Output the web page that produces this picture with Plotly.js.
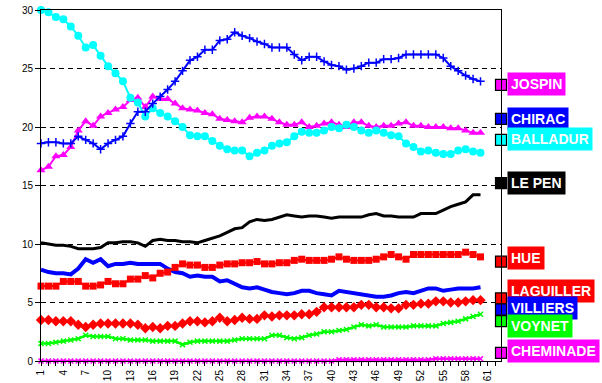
<!DOCTYPE html>
<html>
<head>
<meta charset="utf-8">
<script src="https://cdn.plot.ly/plotly-3.0.1.min.js"></script>
<style>
html,body{margin:0;padding:0;background:#fff;}
#chart{width:602px;height:383px;}
</style>
</head>
<body>
<div id="chart"></div>
<script>
// Survey index 1..60
const days = [1,2,3,4,5,6,7,8,9,10,11,12,13,14,15,16,17,18,19,20,21,22,23,24,25,26,27,28,29,30,31,32,33,34,35,36,37,38,39,40,41,42,43,44,45,46,47,48,49,50,51,52,53,54,55,56,57,58,59,60];

const jospin = [16.3,16.6,17.5,17.6,18.3,19.7,20.5,20.1,20.9,21.2,21.5,21.7,22.3,22.5,21.7,22.6,22.4,22.4,22.0,21.6,21.5,21.4,
  21.2,21.1,20.7,20.6,20.5,20.4,20.8,20.9,20.9,20.7,20.4,20.2,20.2,20.4,20.0,20.1,20.3,20.4,20.2,20.0,20.4,20.4,20.1,20.0,20.1,20.1,
  20.3,20.4,20.1,20.1,20.0,20.0,20.0,19.9,19.9,19.7,19.5,19.5];
const chirac = [18.6,18.7,18.7,18.6,18.6,19.2,18.9,18.6,18.1,18.6,18.9,19.2,20.3,21.3,21.3,22.0,22.6,23.2,23.9,24.8,25.7,26.0,
  26.6,26.6,27.4,27.5,28.1,27.8,27.6,27.3,27.1,26.8,26.8,26.8,26.2,25.7,26.0,26.0,25.6,25.3,25.2,24.9,25.0,25.2,25.5,25.5,25.8,25.8,
  25.9,26.2,26.2,26.2,26.2,26.2,25.9,25.2,24.8,24.4,24.1,23.9];
const balladur = [30.0,29.8,29.4,29.2,28.6,27.8,26.8,27.0,26.1,25.2,24.6,23.9,22.5,22.1,20.9,21.6,21.2,20.9,20.5,20.0,19.3,19.2,
  19.2,18.8,18.4,18.1,18.0,18.0,17.5,17.8,18.0,18.4,18.6,18.7,19.2,19.6,19.5,19.5,19.7,20.0,19.9,20.2,20.0,19.7,19.5,19.7,19.5,19.3,
  19.2,18.6,18.3,17.9,18.0,17.8,17.7,17.7,18.0,18.1,17.9,17.8];
const lepen = [10.1,10.0,9.9,9.9,9.8,9.6,9.6,9.6,9.7,10.1,10.1,10.2,10.2,10.1,9.8,10.3,10.4,10.3,10.3,10.2,10.2,10.1,
  10.3,10.5,10.7,11.0,11.3,11.4,11.9,12.1,12.0,12.1,12.3,12.5,12.4,12.3,12.4,12.4,12.3,12.2,12.3,12.3,
  12.3,12.3,12.5,12.6,12.4,12.4,12.3,12.3,12.3,12.6,12.6,12.6,12.9,13.2,13.4,13.6,14.2,14.2];
const hue = [6.4,6.4,6.4,6.8,6.8,6.8,6.4,6.4,6.5,6.8,6.6,6.6,7.0,7.0,7.3,7.1,7.5,7.6,8.0,8.3,8.2,8.2,
  8.0,8.0,8.2,8.3,8.3,8.4,8.4,8.5,8.3,8.3,8.4,8.4,8.6,8.7,8.6,8.6,8.6,8.7,8.9,
  8.7,8.6,8.6,8.6,8.7,8.9,9.1,8.9,8.7,9.1,9.1,9.1,9.1,9.1,9.1,9.1,9.3,9.1,8.9];
const villiers = [7.8,7.6,7.5,7.5,7.4,7.9,8.7,8.4,8.7,8.1,8.3,8.3,8.4,8.3,8.3,8.3,8.3,7.9,7.6,7.5,7.2,7.3,
  7.2,7.2,6.8,6.9,6.6,6.3,6.2,6.3,6.1,5.9,5.8,5.7,5.8,6.0,6.0,5.8,5.7,5.6,6.0,
  5.9,5.8,5.7,5.6,5.5,5.5,5.6,5.8,5.9,5.8,6.0,6.2,6.2,6.0,6.1,6.2,6.2,6.2,6.3];
const laguiller = [3.5,3.5,3.4,3.4,3.4,3.1,2.9,3.1,3.2,3.2,3.2,3.2,3.2,3.1,2.8,2.9,2.8,3.0,3.0,3.2,3.4,3.4,
  3.3,3.4,3.7,3.4,3.5,3.7,3.6,3.6,3.9,3.8,3.9,3.9,3.9,4.0,4.0,4.2,4.6,4.6,4.6,
  4.6,4.6,4.8,4.8,4.6,4.6,4.5,4.5,4.8,4.8,4.9,4.9,5.1,5.1,5.0,5.0,5.1,5.2,5.2];
const voynet = [1.5,1.5,1.6,1.7,1.8,1.9,2.2,2.1,2.1,2.1,1.9,1.9,1.8,1.8,1.8,1.7,1.7,1.7,1.7,1.4,1.6,1.7,
  1.7,1.7,1.7,1.7,1.8,1.9,1.9,1.9,1.9,2.2,2.2,2.0,1.9,2.0,2.2,2.3,2.5,2.5,2.6,
  2.7,2.9,3.1,3.0,3.1,2.9,2.9,2.9,2.9,3.0,3.0,3.0,3.0,3.2,3.3,3.4,3.6,3.8,4.0];
const cheminade = [0,0,0,0,0,0,0,0,0,0,0,0,0,0,0,0,0,0,0,0,0,0,0,0,0,0,0,0,0,0,0,0,0,0,0,0,0,0,0,0,
  0.1,0.1,0.1,0.1,0.1,0.1,0.1,0.1,0.1,0.1,0.1,0.1,0.1,0.2,0.2,0.2,0.2,0.2,0.2,0.2];

// Right-hand labels
const names = ["JOSPIN","CHIRAC","BALLADUR","LE PEN","HUE","LAGUILLER","VILLIERS","VOYNET","CHEMINADE"];
const colors = ["#FF00FF","#0000FF","#00FFFF","#000000","#FF0000","#FF0000","#0000FF","#00FF00","#FF00FF"];
const keyY = [23.6,20.7,18.9,15.2,8.5,5.35,4.4,3.4,0.7];
const labelY = [23.7,20.7,19.0,15.2,8.8,6.0,4.5,2.95,0.85];

const XMAX = 62.75;

function series(y, color, lw, sym, msize, mline, mcolor) {
  const t = {x: days, y: y, type: 'scatter', mode: sym ? 'lines+markers' : 'lines',
    line: {color: color, width: lw}, hoverinfo: 'skip', showlegend: false, cliponaxis: false};
  if (sym) t.marker = {symbol: sym, size: msize, color: mcolor || color, line: {color: mcolor || color, width: mline || 0}};
  return t;
}

const traces = [
  series(cheminade, colors[8], 2.5, 'x-thin', 5, 1.5),
  series(voynet, colors[7], 2.5, 'x-thin', 5, 1.5),
  series(laguiller, colors[5], 2, 'diamond', 8),
  series(villiers, colors[6], 4, null),
  series(hue, colors[4], 2, 'square', 7),
  series(lepen, colors[3], 3, null),
  series(jospin, colors[0], 2, 'triangle-up', 8),
  series(balladur, colors[2], 2, 'circle', 8),
  series(chirac, colors[1], 2, 'cross-thin', 6, 1.5),
  {x: names.map(() => XMAX), y: keyY, type: 'scatter', mode: 'markers', cliponaxis: false,
   marker: {symbol: 'square', size: 11, color: colors, line: {color: '#000', width: 1.2}},
   hoverinfo: 'skip', showlegend: false}
];

const annotations = names.map((n, i) => ({
  xref: 'paper', yref: 'y', x: 1, y: labelY[i], xanchor: 'left', yanchor: 'middle',
  xshift: 6, text: n, showarrow: false,
  font: {family: 'Arial, "Liberation Sans", sans-serif', size: 14, color: '#FFFFFF', weight: 'bold'},
  bgcolor: colors[i], borderpad: 3, height: 16
}));

const layout = {
  width: 602, height: 383,
  margin: {l: 41, r: 101, t: 10, b: 22},
  paper_bgcolor: '#FFFFFF', plot_bgcolor: '#FFFFFF',
  font: {family: 'Arial, "Liberation Sans", sans-serif', size: 10, color: '#000'},
  showlegend: false,
  xaxis: {range: [1, XMAX], tick0: 1, dtick: 3, ticks: 'outside', ticklen: 4, tickcolor: '#000',
    tickangle: -90, showgrid: false, zeroline: false, showline: true, linecolor: '#000', linewidth: 1,
    mirror: true, tickfont: {size: 10},
    minor: {dtick: 1, ticks: 'outside', ticklen: 4, tickcolor: '#000', showgrid: false}},
  yaxis: {range: [0, 30], dtick: 5, ticks: 'outside', ticklen: 5, tickcolor: '#000',
    showgrid: true, gridcolor: '#000', gridwidth: 1, griddash: '5px,4px', zeroline: false,
    showline: true, linecolor: '#000', linewidth: 1, mirror: true, tickfont: {size: 10}},
  annotations: annotations
};

Plotly.newPlot('chart', traces, layout, {displayModeBar: false, staticPlot: true});
</script>
</body>
</html>
